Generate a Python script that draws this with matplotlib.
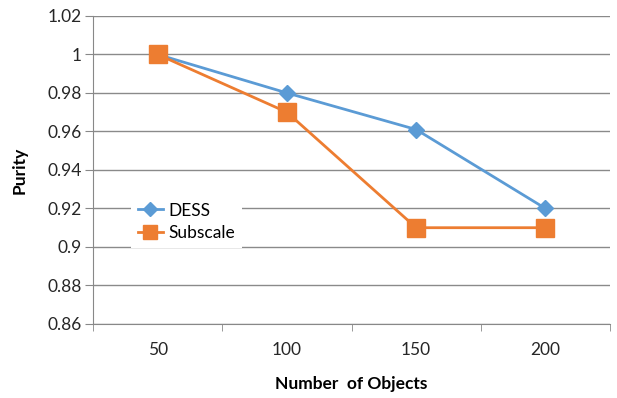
import matplotlib.pyplot as plt
import numpy as np

# data
categories = ['50', '100', '150', '200']
dess = [1.0, 0.98, 0.961, 0.92]
subscale = [1.0, 0.97, 0.91, 0.91]
yticks = [0.86, 0.88, 0.9, 0.92, 0.94, 0.96, 0.98, 1.0, 1.02]
ytick_labels = ['0.86', '0.88', '0.9', '0.92', '0.94', '0.96', '0.98', '1', '1.02']

plt.rcParams['font.family'] = ['Lato', 'DejaVu Sans']

fig = plt.figure(figsize=(6.17, 3.98), dpi=100)
ax = fig.add_axes([0.1507, 0.186, 0.838, 0.774])

x = np.arange(len(categories))
ax.plot(x, dess, color='#5B9BD5', lw=2, marker='D', ms=8.5, label='DESS', zorder=3)
ax.plot(x, subscale, color='#ED7D31', lw=2, marker='s', ms=12.5, label='Subscale', zorder=3)

ax.set_xlim(-0.5, len(categories) - 0.5)
ax.set_ylim(0.86, 1.02)
ax.set_yticks(yticks)
ax.set_yticklabels(ytick_labels, fontsize=12.5, color='#262626')
ax.set_xticks(x)
ax.set_xticklabels(categories, fontsize=12.5, color='#262626')
ax.set_xticks(np.arange(-0.5, len(categories), 1.0), minor=True)
ax.tick_params(axis='x', which='major', length=0, pad=13)
ax.tick_params(axis='x', which='minor', length=5, color='#888888')
ax.tick_params(axis='y', length=6, color='#888888', pad=2)

ax.grid(axis='y', color='#8a8a8a', lw=1)
ax.set_axisbelow(True)
for s in ['top', 'right']:
    ax.spines[s].set_visible(False)
ax.spines['left'].set_color('#888888')
ax.spines['bottom'].set_color('#888888')

ax.set_xlabel('Number  of Objects', fontsize=12.5, fontweight='bold', labelpad=13)
ax.set_ylabel('Purity', fontsize=12.5, fontweight='bold', labelpad=14)

# legend sits in the plot area, white box hides the gridlines behind it
leg = ax.legend(loc='upper left', bbox_to_anchor=(0.056, 0.445), frameon=True,
                fontsize=12.5, handlelength=1.45, borderpad=0.4, labelspacing=0.4,
                handletextpad=0.3, fancybox=False, markerscale=0.8)
leg.get_frame().set_edgecolor('none')
leg.get_frame().set_facecolor('white')
leg.get_frame().set_alpha(1)

fig.savefig('out.png', dpi=100)
